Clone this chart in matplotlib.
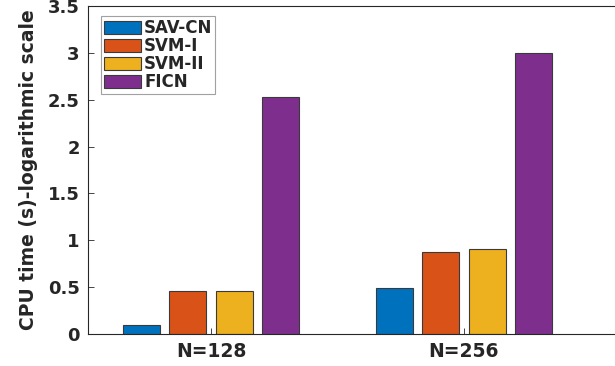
import numpy as np
import matplotlib.pyplot as plt

groups = ["N=128", "N=256"]
methods = ["SAV-CN", "SVM-I", "SVM-II", "FICN"]
cpu_sav = [0.093, 0.49]
cpu_svm1 = [0.456, 0.872]
cpu_svm2 = [0.462, 0.907]
cpu_ficn = [2.53, 3.00]

colors = ["#0072BD", "#D95319", "#EDB120", "#7E2F8E"]

plt.rcParams["font.family"] = "DejaVu Sans"
plt.rcParams["font.weight"] = "bold"

fig = plt.figure(figsize=(6.15, 3.66), dpi=100)
# axes runs past the right edge of the figure, right spine is cut off
ax = fig.add_axes([88 / 615, 32 / 366, 532 / 615, 328 / 366])

x = np.arange(1, len(groups) + 1)
width = 0.146
step = 0.184
series = [cpu_sav, cpu_svm1, cpu_svm2, cpu_ficn]
for i, vals in enumerate(series):
    ax.bar(x + (i - 1.5) * step, vals, width, color=colors[i],
           edgecolor="#3a3a3a", linewidth=0.8, label=methods[i])

ax.set_xlim(0.514, 0.514 + 532 / 253)
ax.set_ylim(0, 3.5)
ax.set_xticks(x)
ax.set_xticklabels(groups, fontsize=13.5, fontweight="bold", color="#262626")
ax.set_yticks(np.arange(0, 3.51, 0.5))
ax.set_yticklabels(["0", "0.5", "1", "1.5", "2", "2.5", "3", "3.5"],
                   fontsize=13, fontweight="bold", color="#262626")
ax.tick_params(direction="in", length=4, width=0.6, color="#262626", pad=6)
for s in ax.spines.values():
    s.set_color("#262626")
    s.set_linewidth(0.8)
ax.spines["right"].set_visible(False)

ax.set_ylabel("CPU time (s)-logarithmic scale", fontsize=13.5, fontweight="bold",
              color="#262626", labelpad=7)

leg = ax.legend(loc="upper left", bbox_to_anchor=(13 / 532, 1 - 10 / 328),
                fontsize=12, frameon=True, fancybox=False, edgecolor="#8a8a8a",
                handlelength=2.2, handleheight=0.8, handletextpad=0.2,
                labelspacing=0.0, borderpad=0.18, borderaxespad=0)
leg.get_frame().set_linewidth(0.8)
for t in leg.get_texts():
    t.set_fontweight("bold")
    t.set_color("#262626")

fig.savefig("out.png", dpi=100)
